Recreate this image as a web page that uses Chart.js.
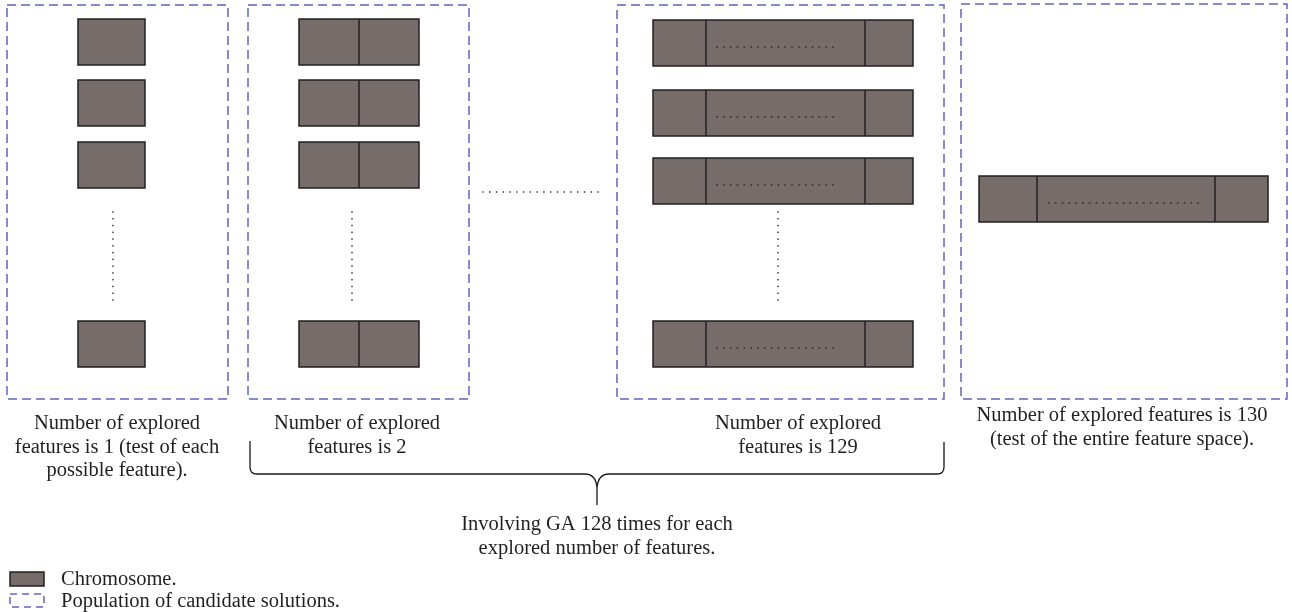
<!DOCTYPE html>
<html>
<head>
<meta charset="utf-8">
<script src="https://cdn.jsdelivr.net/npm/chart.js@4"></script>
<style>
  html, body { margin: 0; padding: 0; background: #fff; }
  #wrap { width: 1292px; height: 612px; }
</style>
</head>
<body>
<div id="wrap"><canvas id="diagram" width="1292" height="612"></canvas></div>
<script>
// what the diagram says
const featureCounts = [1, 2, 129, 130];
const panelCaptions = [
  ["Number of explored", "features is 1 (test of each", "possible feature)."],
  ["Number of explored", "features is 2"],
  ["Number of explored", "features is 129"],
  ["Number of explored features is 130", "(test of the entire feature space)."]
];
const braceNote = ["Involving GA 128 times for each", "explored number of features."];
const legendLabels = ["Chromosome.", "Population of candidate solutions."];

// layout in diagram units (same size as the page)
const panels = [
  { x0: 7, x1: 228, y0: 5, y1: 399, cx: 117, capY: 429 },
  { x0: 248, x1: 469, y0: 5, y1: 399, cx: 357, capY: 429 },
  { x0: 617, x1: 944, y0: 5, y1: 399, cx: 798, capY: 429 },
  { x0: 961, x1: 1287, y0: 4, y1: 399, cx: 1122, capY: 421 }
];
const genes = [
  { x0: 78, x1: 145, cuts: [], rows: [19, 80, 142, 321], vdot: 113 },
  { x0: 299, x1: 419, cuts: [359], rows: [19, 80, 142, 321], vdot: 352 },
  { x0: 653, x1: 913, cuts: [706, 865], rows: [20, 90, 158, 321], vdot: 778, inner: [717, 833] },
  { x0: 979, x1: 1268, cuts: [1037, 1215], rows: [176], inner: [1049, 1198] }
];
const geneH = 46;

const FILL = "#766d6b", EDGE = "#231f20", DASH = "#5f66bb", INK = "#231f20";
const FONT = "20.5px 'Liberation Serif', 'Times New Roman', serif";

const diagramPlugin = {
  id: "diagram",
  afterDraw(chart) {
    const ctx = chart.ctx;
    const sx = chart.scales.x, sy = chart.scales.y;
    const X = v => sx.getPixelForValue(v);
    const Y = v => sy.getPixelForValue(v);

    const dots = (x0, y0, x1, y1, step) => {
      const len = Math.hypot(x1 - x0, y1 - y0);
      const n = Math.round(len / step);
      ctx.fillStyle = "#222";
      for (let i = 0; i <= n; i++) {
        const t = n ? i / n : 0;
        ctx.fillRect(X(x0 + (x1 - x0) * t) - 0.7, Y(y0 + (y1 - y0) * t) - 0.7, 1.4, 1.4);
      }
    };

    ctx.save();
    // population boxes
    ctx.strokeStyle = DASH;
    ctx.lineWidth = 1.5;
    ctx.setLineDash([9, 5]);
    panels.forEach(p => {
      ctx.strokeRect(X(p.x0), Y(p.y0), X(p.x1) - X(p.x0), Y(p.y1) - Y(p.y0));
    });
    ctx.setLineDash([]);

    // chromosomes
    genes.forEach(g => {
      g.rows.forEach(r => {
        const x = X(g.x0), y = Y(r), w = X(g.x1) - X(g.x0), h = Y(r + geneH) - Y(r);
        ctx.fillStyle = FILL;
        ctx.fillRect(x, y, w, h);
        ctx.strokeStyle = EDGE;
        ctx.lineWidth = 1.5;
        ctx.strokeRect(x, y, w, h);
        g.cuts.forEach(c => {
          ctx.beginPath();
          ctx.moveTo(X(c), y);
          ctx.lineTo(X(c), y + h);
          ctx.stroke();
        });
        if (g.inner) dots(g.inner[0], r + 27, g.inner[1], r + 27, 6.7);
      });
      if (g.vdot !== undefined) dots(g.vdot, 212, g.vdot, 300, 6.7);
    });
    // gap between populations
    dots(483, 192, 598, 192, 6.6);

    // captions
    ctx.fillStyle = INK;
    ctx.font = FONT;
    ctx.textAlign = "center";
    ctx.textBaseline = "alphabetic";
    panels.forEach((p, i) => {
      panelCaptions[i].forEach((line, k) => ctx.fillText(line, X(p.cx), Y(p.capY + k * 23.5)));
    });

    // brace
    ctx.strokeStyle = "#1a1a1a";
    ctx.lineWidth = 1.3;
    ctx.beginPath();
    ctx.moveTo(X(250), Y(441));
    ctx.lineTo(X(250), Y(467));
    ctx.quadraticCurveTo(X(250), Y(474), X(257), Y(474));
    ctx.lineTo(X(585), Y(474));
    ctx.quadraticCurveTo(X(596), Y(474), X(597), Y(488));
    ctx.lineTo(X(597), Y(505));
    ctx.moveTo(X(597), Y(488));
    ctx.quadraticCurveTo(X(598), Y(474), X(609), Y(474));
    ctx.lineTo(X(937), Y(474));
    ctx.quadraticCurveTo(X(944), Y(474), X(944), Y(467));
    ctx.lineTo(X(944), Y(442));
    ctx.stroke();

    braceNote.forEach((line, k) => ctx.fillText(line, X(597), Y(530 + k * 23.5)));

    // legend
    ctx.fillStyle = FILL;
    ctx.fillRect(X(10), Y(572), X(44) - X(10), Y(586) - Y(572));
    ctx.strokeStyle = EDGE;
    ctx.lineWidth = 1.5;
    ctx.strokeRect(X(10), Y(572), X(44) - X(10), Y(586) - Y(572));
    ctx.strokeStyle = DASH;
    ctx.setLineDash([7, 5]);
    ctx.strokeRect(X(10), Y(594), X(44) - X(10), Y(607) - Y(594));
    ctx.setLineDash([]);
    ctx.fillStyle = INK;
    ctx.textAlign = "left";
    ctx.fillText(legendLabels[0], X(61), Y(585));
    ctx.fillText(legendLabels[1], X(61), Y(607));
    ctx.restore();
  }
};

new Chart(document.getElementById("diagram").getContext("2d"), {
  type: "scatter",
  data: { datasets: [{ label: "features", data: featureCounts.map(() => null) }] },
  options: {
    responsive: false,
    animation: false,
    layout: { padding: 0, autoPadding: false },
    scales: {
      x: { type: "linear", min: 0, max: 1292, display: false },
      y: { type: "linear", min: 0, max: 612, reverse: true, display: false }
    },
    plugins: { legend: { display: false }, tooltip: { enabled: false } }
  },
  plugins: [diagramPlugin]
});
</script>
</body>
</html>
